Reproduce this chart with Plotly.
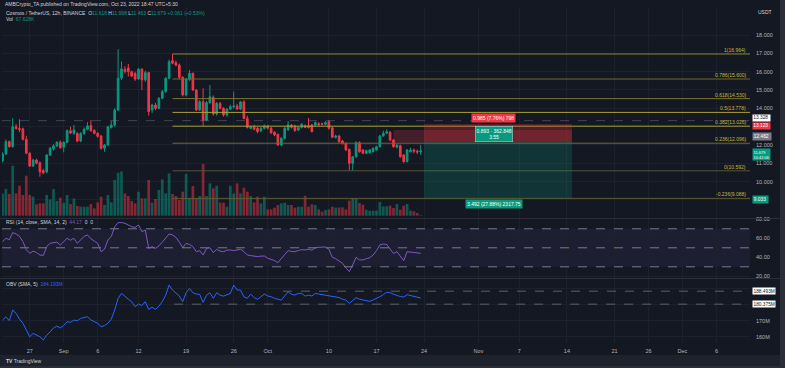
import plotly.graph_objects as go
import pandas as pd

# ---------------- data ----------------
start = pd.Timestamp("2022-08-23 00:00")
opens = [11.13, 11.51, 12.18, 11.91, 13.00, 12.90, 12.88, 12.31, 11.55, 10.85,
         11.18, 11.03, 10.60, 10.54, 11.45, 11.80, 11.95, 12.15, 11.88, 12.15,
         12.78, 12.64, 12.62, 12.22, 12.62, 12.86, 13.06, 12.80, 12.64, 12.49,
         11.82, 12.00, 12.95, 13.09, 13.91, 15.65, 16.13, 16.20, 16.00, 15.90,
         15.60, 16.13, 15.55, 15.95, 13.91, 14.18, 14.00, 14.55, 14.91, 15.64,
         16.60, 16.49, 16.36, 15.69, 14.73, 15.58, 15.91, 15.00, 13.91, 14.36,
         13.36, 14.31, 14.60, 13.69, 14.27, 14.00, 13.64, 13.96, 14.09, 14.13,
         13.96, 14.35, 13.45, 12.91, 13.00, 12.90, 12.78, 12.91, 13.04, 12.92,
         12.70, 12.58, 12.00, 12.37, 12.82, 13.09, 13.04, 12.82, 12.96, 13.05,
         13.05, 13.09, 13.09, 13.16, 13.16, 13.13, 13.27, 12.94, 12.42, 12.49,
         12.22, 12.09, 11.76, 11.00, 11.36, 12.125, 11.727, 11.547, 11.58, 11.634,
         11.727, 11.907, 12.491, 12.638, 12.70, 12.273, 11.875, 11.962, 11.455, 11.09,
         11.634, 11.73, 11.66, 11.618]
highs = [11.60, 12.30, 12.25, 13.46, 13.15, 13.40, 12.95, 12.50, 11.60, 11.25,
         11.25, 11.10, 10.70, 11.50, 11.90, 12.05, 12.20, 12.25, 12.20, 12.85,
         13.00, 13.09, 12.70, 12.70, 12.95, 13.24, 13.36, 12.85, 12.70, 12.55,
         12.05, 13.05, 13.30, 14.00, 17.22, 16.55, 16.30, 16.42, 16.05, 16.00,
         16.20, 16.20, 16.05, 16.00, 14.25, 14.30, 14.60, 15.00, 15.70, 16.65,
         16.964, 16.60, 16.45, 15.75, 15.65, 16.10, 15.95, 15.05, 14.45, 15.09,
         14.40, 15.27, 14.70, 14.35, 14.35, 14.05, 14.00, 14.20, 14.91, 14.25,
         14.40, 14.45, 13.60, 13.05, 13.10, 12.98, 12.98, 13.12, 13.10, 12.98,
         12.75, 12.62, 12.42, 12.98, 13.30, 13.15, 13.10, 13.00, 13.20, 13.12,
         13.47, 13.15, 13.28, 13.25, 13.22, 13.30, 13.35, 13.00, 12.55, 12.55,
         12.28, 12.15, 11.80, 11.40, 12.20, 12.20, 11.78, 11.75, 11.78, 11.87,
         11.95, 12.55, 12.78, 12.85, 12.75, 12.32, 12.05, 12.02, 11.50, 11.78,
         11.85, 11.80, 11.75, 11.998]
lows = [11.05, 11.45, 11.85, 11.85, 12.85, 12.70, 12.25, 11.50, 10.80, 10.80,
        10.95, 10.27, 10.40, 10.45, 11.40, 11.70, 11.90, 11.80, 11.60, 12.10,
        12.60, 12.55, 12.15, 12.15, 12.55, 12.80, 12.72, 12.58, 12.40, 11.75,
        11.63, 11.95, 12.90, 13.00, 13.85, 15.55, 15.90, 15.73, 15.70, 15.50,
        15.55, 15.00, 15.45, 13.60, 13.75, 13.90, 13.95, 14.50, 14.85, 15.60,
        16.40, 16.30, 15.60, 14.65, 14.65, 15.50, 14.95, 13.85, 13.85, 13.04,
        13.30, 14.25, 13.60, 13.60, 13.95, 13.55, 13.55, 13.90, 14.00, 13.90,
        13.90, 13.40, 12.90, 12.85, 12.80, 12.65, 12.70, 12.85, 12.85, 12.60,
        12.48, 11.95, 11.92, 12.30, 12.78, 12.90, 12.72, 12.75, 12.90, 12.92,
        12.90, 12.68, 13.00, 13.05, 13.08, 13.08, 12.85, 12.38, 12.35, 12.12,
        12.02, 11.68, 10.60, 10.60, 11.30, 11.58, 11.50, 11.50, 11.52, 11.60,
        11.70, 11.85, 12.45, 12.60, 12.22, 11.85, 11.82, 11.30, 11.02, 11.05,
        11.60, 11.55, 11.50, 11.463]
closes = [11.51, 12.18, 11.91, 13.00, 12.90, 12.85, 12.31, 11.55, 10.85, 11.18,
          11.00, 10.54, 10.49, 11.45, 11.82, 11.95, 12.15, 11.85, 12.15, 12.78,
          12.65, 12.82, 12.22, 12.62, 12.86, 13.04, 12.78, 12.64, 12.47, 11.82,
          12.00, 13.00, 13.09, 13.91, 15.64, 16.15, 16.00, 16.00, 15.76, 15.60,
          16.13, 15.55, 15.95, 13.82, 14.18, 14.00, 14.55, 14.91, 15.64, 16.54,
          16.46, 16.36, 15.69, 14.73, 15.58, 15.91, 15.00, 13.91, 14.36, 13.36,
          14.31, 14.63, 13.69, 14.27, 14.00, 13.64, 13.96, 14.09, 14.13, 13.96,
          14.35, 13.45, 12.96, 13.00, 12.86, 12.73, 12.91, 13.04, 12.92, 12.67,
          12.55, 12.00, 12.37, 12.91, 13.09, 12.96, 12.78, 12.96, 13.13, 12.96,
          12.96, 12.73, 13.22, 13.10, 13.13, 13.22, 12.91, 12.42, 12.49, 12.18,
          12.09, 11.73, 11.00, 11.36, 12.125, 11.634, 11.547, 11.689, 11.727, 11.82,
          11.907, 12.491, 12.638, 12.725, 12.273, 11.907, 12.00, 11.361, 11.09, 11.727,
          11.727, 11.66, 11.618, 11.679]
volumes_k = [2900, 3470, 2820, 6500, 2900, 3900, 2690, 5200, 2690, 2470,
             1470, 1600, 1600, 2690, 2120, 3470, 1910, 2340, 1690, 2690,
             1520, 2250, 1260, 1170, 1170, 1170, 1520, 950, 1730, 2470,
             1390, 2690, 1730, 4640, 5590, 5760, 2900, 2560, 1910, 1600,
             3120, 2250, 2250, 4640, 1690, 2170, 3340, 4720, 2900, 5500,
             2820, 2560, 2040, 3120, 5420, 2250, 3860, 2250, 2560, 6720,
             2560, 4200, 3550, 3900, 1690, 1690, 1170, 3900, 2900, 4200,
             2900, 3640, 3120, 2560, 1730, 2470, 1600, 2470, 820, 820,
             1040, 1390, 1600, 1690, 1390, 1390, 1040, 1170, 1170, 2600,
             1170, 1470, 1390, 820, 520, 740, 820, 1170, 1040, 1080,
             1080, 820, 1950, 2300, 2210, 1650, 1430, 780, 650, 650,
             650, 1780, 1210, 1210, 1300, 1000, 1520, 780, 1300, 1520,
             650, 560, 350, 67.6]
rsi = [56.5, 60.0, 58.5, 66.0, 64.5, 62.0, 56.5, 48.0, 44.2, 46.5,
       45.0, 42.4, 42.0, 51.2, 54.7, 55.4, 56.0, 52.9, 57.0, 60.0,
       58.0, 60.0, 54.7, 58.5, 62.0, 63.5, 59.5, 57.0, 54.7, 45.9,
       48.5, 58.2, 62.0, 72.0, 76.5, 76.5, 75.8, 74.0, 72.2, 71.5,
       74.0, 67.0, 68.7, 49.4, 51.2, 49.4, 52.0, 56.0, 60.5, 64.5,
       63.5, 61.0, 56.0, 50.1, 54.7, 53.5, 51.2, 45.9, 47.0, 42.4,
       49.4, 50.0, 44.9, 48.4, 46.5, 45.9, 47.5, 47.7, 47.0, 48.0,
       48.4, 46.0, 42.4, 41.8, 41.2, 40.7, 41.2, 41.4, 39.0, 38.0,
       36.5, 34.4, 38.5, 43.0, 47.0, 46.2, 45.9, 47.2, 48.0, 47.7,
       48.5, 47.5, 50.0, 50.5, 50.5, 50.8, 48.5, 40.0, 38.5, 36.5,
       33.7, 29.0, 24.9, 31.9, 40.0, 37.2, 37.2, 38.5, 39.5, 42.4,
       47.0, 53.0, 54.0, 53.5, 49.0, 44.0, 45.9, 41.0, 36.5, 45.9,
       45.5, 44.5, 44.0, 44.17]
obv_m = [170.4, 172.5, 170.0, 176.7, 174.6, 171.0, 168.5, 163.8, 160.0, 162.1,
         161.0, 160.0, 158.0, 161.0, 163.0, 165.5, 166.7, 165.5, 167.0, 169.4,
         169.0, 170.4, 170.0, 171.5, 172.0, 172.5, 170.5, 169.5, 168.4, 166.3,
         167.0, 168.4, 171.0, 176.7, 184.0, 187.1, 185.0, 183.5, 181.9, 178.8,
         180.5, 179.5, 181.9, 177.1, 178.4, 177.1, 179.0, 182.0, 186.0, 192.3,
         189.2, 187.5, 185.5, 181.9, 187.5, 190.2, 187.5, 186.7, 186.5, 181.5,
         186.0, 187.5, 184.0, 187.5, 186.0, 185.4, 186.5, 187.1, 192.3, 189.2,
         189.2, 185.0, 184.0, 186.7, 184.5, 183.4, 185.0, 186.7, 185.5, 185.0,
         184.0, 183.4, 182.9, 185.5, 188.1, 186.5, 186.1, 187.1, 187.1, 185.4,
         186.0, 185.5, 187.1, 186.7, 186.4, 186.1, 185.4, 185.2, 185.0, 184.5,
         183.5, 182.9, 180.9, 182.9, 184.4, 183.5, 182.9, 182.3, 182.1, 183.0,
         183.8, 185.0, 186.3, 187.8, 187.5, 186.5, 185.8, 185.2, 184.8, 186.3,
         185.8, 185.2, 184.8, 184.2]
dates = pd.date_range(start, periods=len(closes), freq="12h")

fib_ratios = ["1", "0.786", "0.618", "0.5", "0.382", "0.236", "0", "-0.236"]
fib_prices = [16.964, 15.600, 14.530, 13.778, 13.026, 12.096, 10.592, 9.088]
fib_start = "2022-09-17 00:00"

price_ticks = [9, 10, 11, 12, 13, 14, 15, 16, 17, 18]
price_ticktext = ["", "10.000", "11.000", "12.000", "", "14.000", "15.000", "16.000", "17.000", "18.000"]
rsi_ticks = [20, 40, 60, 80]
obv_ticks = [160, 170, 180, 190]
obv_ticktext = ["160M", "170M", "", ""]
x_tickvals = ["2022-08-27", "2022-09-01", "2022-09-06", "2022-09-12", "2022-09-19",
              "2022-09-26", "2022-10-01", "2022-10-10", "2022-10-17", "2022-10-24",
              "2022-11-01", "2022-11-07", "2022-11-14", "2022-11-21", "2022-11-26",
              "2022-12-01", "2022-12-06"]
x_ticktext = ["27", "Sep", "6", "12", "19", "26", "Oct", "10", "17", "24",
              "Nov", "7", "14", "21", "26", "Dec", "6"]

hline_price = 13.328
pos_start, pos_end = "2022-10-24 00:00", "2022-11-14 18:00"
pos_stop, pos_entry, pos_target = 13.145, 12.16, 9.10
zone_start = "2022-10-19 12:00"
zone_top, zone_bot = 12.82, 12.13
obv_line1, obv_line1_start = 188.493, "2022-10-03 06:00"
obv_line2, obv_line2_start = 180.375, "2022-09-17 06:00"

# ---------------- style ----------------
W, H = 785, 368
ML, MR, MT, MB = 2, 35, 8, 25
PW, PH = W - ML - MR, H - MT - MB
def pxx(x): return (x - ML) / PW
def pxy(y): return (H - MB - y) / PH

BG = "#141823"
GRID = "#1d212c"
TXT = "#b2b5be"
UP, DN = "#089981", "#f23645"
FONT = "Liberation Sans"
x_range = ["2022-08-22 22:13", "2022-12-10 22:18"]

vol_colors = ["rgba(8,153,129,0.5)" if c >= o else "rgba(242,54,69,0.5)"
              for o, c in zip(opens, closes)]

fig = go.Figure()
fig.add_trace(go.Bar(x=dates, y=volumes_k, marker_color=vol_colors, marker_line_width=0,
                     width=12 * 3600 * 1000 * 0.8, xaxis="x", yaxis="y", hoverinfo="skip"))
fig.add_trace(go.Candlestick(x=dates, open=opens, high=highs, low=lows, close=closes,
                             increasing=dict(line=dict(color=UP, width=1), fillcolor=UP),
                             decreasing=dict(line=dict(color=DN, width=1), fillcolor=DN),
                             whiskerwidth=0, xaxis="x", yaxis="y2", hoverinfo="skip"))
fig.add_trace(go.Scatter(x=dates, y=rsi, mode="lines", line=dict(color="#7e57c2", width=1),
                         xaxis="x", yaxis="y3", hoverinfo="skip"))
fig.add_trace(go.Scatter(x=dates, y=obv_m, mode="lines", line=dict(color="#2962ff", width=1),
                         xaxis="x", yaxis="y4", hoverinfo="skip"))

tf = dict(family=FONT, size=5.5, color=TXT)
main_dom = [pxy(218), 1]
rsi_dom = [pxy(278), pxy(219)]
obv_dom = [0, pxy(279)]

fig.update_layout(
    width=W, height=H, margin=dict(l=ML, r=MR, t=MT, b=MB),
    paper_bgcolor=BG, plot_bgcolor=BG, showlegend=False, hovermode=False,
    font=dict(family=FONT, color=TXT, size=5.5),
    xaxis=dict(type="date", range=x_range, domain=[0, 1], anchor="y4",
               tickvals=x_tickvals, ticktext=x_ticktext, tickfont=tf, ticks="",
               ticklabelstandoff=3, showgrid=True, gridcolor=GRID, gridwidth=1,
               zeroline=False, showline=False, rangeslider=dict(visible=False)),
    yaxis=dict(domain=main_dom, range=[-300, 27000], visible=False, showgrid=False),
    yaxis2=dict(overlaying="y", side="right", anchor="x", range=[8.017, 19.473],
                tickvals=price_ticks, ticktext=price_ticktext,
                tickfont=tf, ticks="", ticklabelstandoff=5, showgrid=True,
                gridcolor=GRID, zeroline=False),
    yaxis3=dict(domain=rsi_dom, side="right", anchor="x", range=[18.2, 80.3],
                tickvals=rsi_ticks, ticktext=[f"{v:.2f}" for v in rsi_ticks],
                tickfont=tf, ticks="", ticklabelstandoff=5, showgrid=True,
                gridcolor=GRID, zeroline=False),
    yaxis4=dict(domain=obv_dom, side="right", anchor="x", range=[156.1, 196.1],
                tickvals=obv_ticks, ticktext=obv_ticktext,
                tickfont=tf, ticks="", ticklabelstandoff=5, showgrid=True,
                gridcolor=GRID, zeroline=False),
)

shapes = []
# frame pieces
shapes.append(dict(type="rect", xref="paper", yref="paper", x0=pxx(-5), x1=pxx(790),
                   y0=pxy(355), y1=pxy(370), fillcolor="#1e222d", line_width=0, layer="below"))
shapes.append(dict(type="rect", xref="paper", yref="paper", x0=pxx(-5), x1=pxx(790),
                   y0=pxy(366), y1=pxy(370), fillcolor="#2a2e39", line_width=0, layer="below"))
shapes.append(dict(type="rect", xref="paper", yref="paper", x0=pxx(780), x1=pxx(790),
                   y0=pxy(370), y1=pxy(-2), fillcolor="#2a2e39", line_width=0, layer="below"))
for yy in (218.5, 278.5):
    shapes.append(dict(type="line", xref="paper", yref="paper", x0=pxx(0), x1=pxx(780),
                       y0=pxy(yy), y1=pxy(yy), line=dict(color="#2a2e39", width=1)))
# RSI band
shapes.append(dict(type="rect", xref="paper", yref="y3", x0=0, x1=1, y0=30, y1=70,
                   fillcolor="rgba(126,87,194,0.10)", line_width=0, layer="between"))
for lv in (70, 50, 30):
    shapes.append(dict(type="line", xref="paper", yref="y3", x0=0, x1=1, y0=lv, y1=lv,
                       line=dict(color="#787b86", width=1, dash="dash")))
# horizontal dashed line on price
shapes.append(dict(type="line", xref="paper", yref="y2", x0=0, x1=1, y0=hline_price,
                   y1=hline_price, line=dict(color="rgba(120,123,134,0.45)", width=1, dash="dash")))
# fib lines
fib_cols = ["#8a8430", "#6e6a2e", "#7a7530", "#a89f33", "#a89f33", "#6e6a2e", "#55543a", "#5e5c32"]
for p, c in zip(fib_prices, fib_cols):
    shapes.append(dict(type="line", xref="x", yref="y2", x0=fib_start, x1=x_range[1],
                       y0=p, y1=p, line=dict(color=c, width=1)))
# position tool
shapes.append(dict(type="rect", xref="x", yref="y2", x0=zone_start, x1=pos_end,
                   y0=zone_bot, y1=zone_top, fillcolor="rgba(242,54,69,0.22)", line_width=0))
shapes.append(dict(type="rect", xref="x", yref="y2", x0=pos_start, x1=pos_end,
                   y0=pos_entry, y1=pos_stop, fillcolor="rgba(242,54,69,0.25)", line_width=0))
shapes.append(dict(type="rect", xref="x", yref="y2", x0=pos_start, x1=pos_end,
                   y0=pos_target, y1=pos_entry, fillcolor="rgba(8,153,129,0.22)", line_width=0))
# OBV dashed lines
shapes.append(dict(type="line", xref="x", yref="y4", x0=obv_line1_start, x1=x_range[1],
                   y0=obv_line1, y1=obv_line1, line=dict(color="#5d606b", width=1, dash="dash")))
shapes.append(dict(type="line", xref="x", yref="y4", x0=obv_line2_start, x1=x_range[1],
                   y0=obv_line2, y1=obv_line2, line=dict(color="#5d606b", width=1, dash="dash")))
fig.update_layout(shapes=shapes)

ann = []
def txt(x, y, s, size=5.5, color=TXT, xanchor="left", yanchor="middle", **kw):
    ann.append(dict(xref="paper", yref="paper", x=pxx(x), y=pxy(y), text=s, showarrow=False,
                    xanchor=xanchor, yanchor=yanchor, font=dict(family=FONT, size=size, color=color), **kw))

txt(3, 4, "AMBCrypto_TA published on TradingView.com, Oct 23, 2022 18:47 UTC+5:30", size=5, color="#d1d4dc")
G = UP
txt(4, 13, ("Cosmos / TetherUS, 12h, BINANCE  O<span style='color:%s'>11.618</span> H<span style='color:%s'>11.998</span>"
            " L<span style='color:%s'>11.463</span> C<span style='color:%s'>11.679 +0.061 (+0.53%%)</span>") % (G, G, G, G),
    size=5, color="#d1d4dc")
txt(4, 19.5, "Vol  <span style='color:%s'>67.628K</span>" % G, size=5, color="#d1d4dc")
txt(4, 222, "RSI (14, close, SMA, 14, 2)  <span style='color:#7e57c2'>44.17</span>  0  0", size=5, color="#d1d4dc")
txt(4, 283.5, "OBV (SMA, 5)  <span style='color:#2962ff'>184.193M</span>", size=5, color="#d1d4dc")
txt(756, 12, "USDT", size=5, color="#d1d4dc")
txt(4, 361, "<b>TV</b> TradingView", size=5, color="#d1d4dc")

# fib labels
for r, p in zip(fib_ratios, fib_prices):
    ann.append(dict(xref="paper", yref="y2", x=pxx(748), y=p, text=f"{r}({p:.3f})", showarrow=False,
                    xanchor="right", yanchor="bottom", yshift=-1,
                    font=dict(family=FONT, size=5, color="#c7b83a")))

# right axis labels
def axlab(yref, y, s, bg, fg, yanchor="middle", size=4.8, pad=0.3, yshift=0):
    ann.append(dict(xref="paper", yref=yref, x=pxx(752), y=y, text=s, showarrow=False,
                    xanchor="left", yanchor=yanchor, bgcolor=bg, borderpad=pad, align="left",
                    yshift=yshift, font=dict(family=FONT, size=size, color=fg)))
axlab("y2", hline_price, "13.328 ", "#ffffff", "#131722", yshift=2.2)
axlab("y2", 13.123, "13.123 ", DN, "#ffffff", yshift=-1.2)
axlab("y2", 12.482, "12.482 ", "#787b86", "#ffffff", pad=0.8)
ann.append(dict(xref="paper", yref="y2", x=pxx(752), y=11.679, text="11.679   <br>10:42:06",
                showarrow=False, xanchor="left", yanchor="top", yshift=2.5, bgcolor=UP,
                borderpad=0.5, align="left", font=dict(family=FONT, size=4, color="#ffffff")))
axlab("y2", 9.033, "9.033 ", UP, "#ffffff", pad=0.8)
axlab("y4", obv_line1, "188.493M", "#ffffff", "#131722", pad=0.5)
axlab("y4", obv_line2, "180.375M", "#ffffff", "#131722", pad=0.5)

# position tool labels
mid = "2022-11-03 06:00"
ann.append(dict(xref="x", yref="y2", x=mid, y=pos_stop, yanchor="bottom", yshift=1,
                text="0.985 (7.76%) 798", showarrow=False, bgcolor=DN, borderpad=1,
                font=dict(family=FONT, size=5, color="#ffffff")))
ann.append(dict(xref="x", yref="y2", x=mid, y=pos_entry, yanchor="bottom", yshift=0,
                text="0.893 · 362.848<br>3.55", showarrow=False, bgcolor=UP, borderpad=1,
                bordercolor="#d1d4dc", borderwidth=0.5,
                font=dict(family=FONT, size=5, color="#ffffff")))
ann.append(dict(xref="x", yref="y2", x=mid, y=pos_target, yanchor="top", yshift=-1,
                text="3.492 (27.88%) 2317.75", showarrow=False, bgcolor=UP, borderpad=1,
                font=dict(family=FONT, size=5, color="#ffffff")))
fig.update_layout(annotations=ann)

fig.write_html("out.html", config={"displayModeBar": False},
               post_script="document.body.style.margin='0';document.body.style.padding='0';"
                           "document.body.style.background='%s';" % BG)
